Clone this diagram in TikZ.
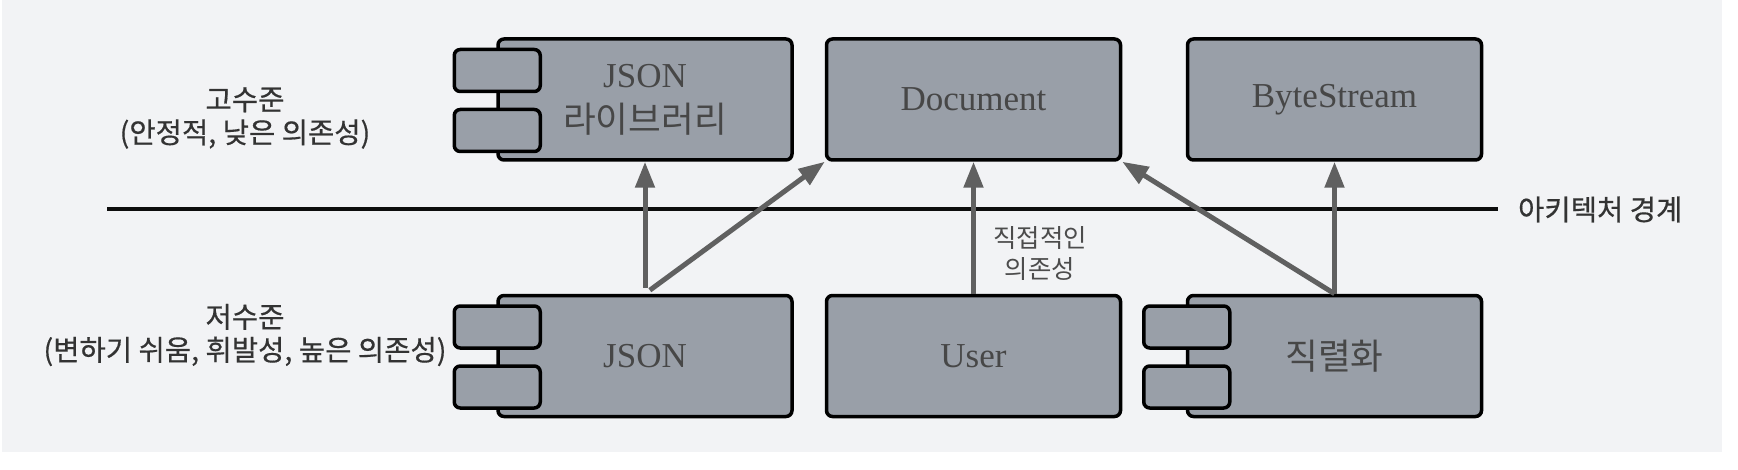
\documentclass[tikz,border=0pt]{standalone}
\usepackage{fontspec}
\setmainfont{Liberation Serif}
\newfontfamily\kr{Noto Sans CJK KR}
\newfontfamily\krbold[FakeBold=0.5]{Noto Sans CJK KR}
\usetikzlibrary{arrows.meta,positioning}
\definecolor{bgcol}{HTML}{F2F3F5}
\definecolor{boxcol}{HTML}{999FA8}
\definecolor{txtcol}{HTML}{474747}
\definecolor{arrcol}{HTML}{606060}
\newcommand\krtxt[1]{{\kr\fontsize{17.8}{22.5}\selectfont #1}}
\tikzset{
  comp/.style={draw=black, line width=1.75pt, fill=boxcol, rounded corners=3pt,
    minimum width=147pt, minimum height=60.5pt, text=txtcol, align=center,
    font=\fontsize{17.5}{22.5}\selectfont},
  tab/.style={draw=black, line width=1.75pt, fill=boxcol, rounded corners=3pt,
    minimum width=43pt, minimum height=21pt, inner sep=0pt},
  dep/.style={draw=arrcol, line width=2.5pt, -{Triangle[length=13pt,width=9.5pt]}},
  lvl/.style={align=center, text=black!80, font=\krbold\fontsize{14.3}{16.5}\selectfont},
}
\begin{document}
\begin{tikzpicture}[x=0.5pt,y=-0.5pt]
  \useasboundingbox (0,0) rectangle (1738,470);
  \fill[bgcol] (2,0) rectangle (1722,452);
  % levels
  \node[lvl] (high) at (245,118) {고수준\\(안정적, 낮은 의존성)};
  \node[lvl] (low) at (245,335) {저수준\\(변하기 쉬움, 휘발성, 높은 의존성)};
  % boundary
  \coordinate (bl) at (107,209.5);
  \coordinate (br) at (1498,209.5);
  \draw[line width=2pt, black!95] (bl) -- (br);
  \node[lvl, right=6.5pt of br] (bound) {아키텍처 경계};
  % components
  \node[comp] (lib) at (645,99.5) {JSON\\\krtxt{라이브러리}};
  \node[comp] (doc) at (973.5,99.5) {Document};
  \node[comp] (bytes) at (1334.5,99.5) {ByteStream};
  \node[comp] (json) at (645,356) {JSON};
  \node[comp] (user) at (973.5,356) {User};
  \node[comp] (ser) at (1334.5,356) {\krtxt{직렬화}};
  \foreach \c in {lib,json,ser} {
    \node[tab] at ([xshift=0.5pt,yshift=14.5pt]\c.west) {};
    \node[tab] at ([xshift=0.5pt,yshift=-15.5pt]\c.west) {};
  }
  % dependencies
  \draw[dep, shorten <=3pt] (json.north) -- (lib.south);
  \draw[dep, shorten <=3pt] (json.north) -- (doc.south west);
  \draw[dep] (user.north) -- (doc.south);
  \draw[dep] (ser.north) -- (doc.south east);
  \draw[dep] (ser.north) -- (bytes.south);
  \node[align=center, text=black!70, font=\kr\fontsize{12.7}{15.5}\selectfont] (direct) at (1040,254) {직접적인\\의존성};
\end{tikzpicture}
\end{document}
